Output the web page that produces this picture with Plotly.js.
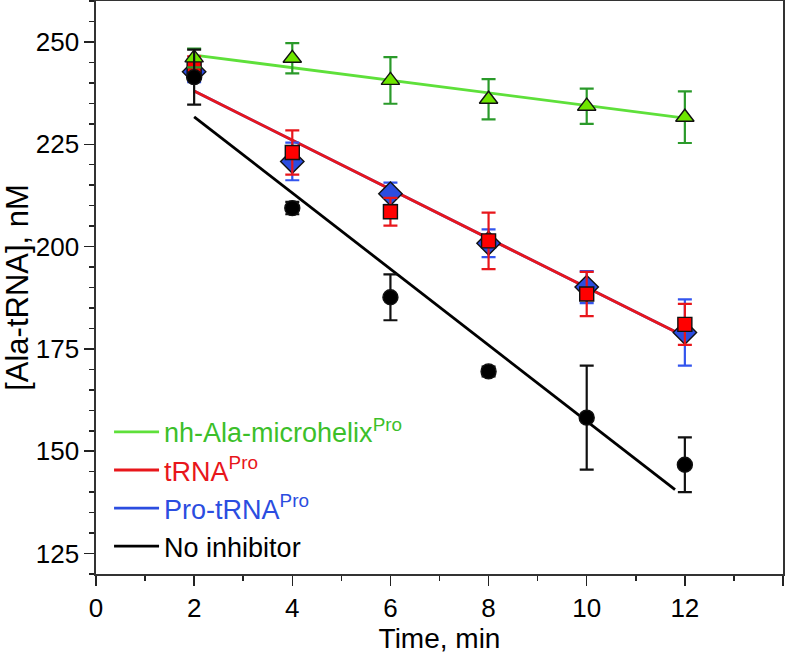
<!DOCTYPE html>
<html>
<head>
<meta charset="utf-8">
<script src="https://cdn.plot.ly/plotly-3.0.1.min.js"></script>
<style>html,body{margin:0;padding:0;background:#fff}#chart{width:793px;height:656px}</style>
</head>
<body>
<div id="chart"></div>
<script>
// ---- data ----
const times = [2, 4, 6, 8, 10, 12];

const microhelix    = [246.1, 246.0, 240.6, 236.0, 234.3, 231.6];
const microhelixErr = [2.3, 3.7, 5.7, 4.9, 4.3, 6.3];

const tRNA    = [244.0, 223.0, 208.5, 201.4, 188.4, 181.0];
const tRNAErr = [2.5, 5.4, 3.4, 6.9, 5.4, 5.0];

const proTRNA    = [242.7, 220.8, 212.9, 200.8, 190.1, 179.0];
const proTRNAErr = [2.5, 4.6, 2.7, 3.4, 3.9, 8.1];

const noInhib    = [241.4, 209.4, 187.6, 169.5, 158.2, 146.7];
const noInhibErr = [6.7, 1.5, 5.6, 1.2, 12.7, 6.7];

// linear fits
const fitX          = [2, 12];
const microhelixFit = [246.8, 231.4];
const tRNAFit       = [238.0, 178.0];
const proTRNAFit    = [238.0, 178.0];
const noInhibFitX   = [2, 11.8];
const noInhibFit    = [231.7, 140.6];

const yTicks = [125, 150, 175, 200, 225, 250];
const xTicks = [0, 2, 4, 6, 8, 10, 12, 14];

const names = {
  microhelix: '<span style="color:#3cbf2a">nh-Ala-microhelix<sup>Pro</sup></span>',
  tRNA: '<span style="color:#e8161b">tRNA<sup>Pro</sup></span>',
  proTRNA: '<span style="color:#2b4de0">Pro-tRNA<sup>Pro</sup></span>',
  noInhib: '<span style="color:#000">No inhibitor</span>'
};

// ---- styles ----
const C = {
  green: {line: '#5ee03a', fill: '#6ee600', err: '#2a9a2a'},
  red:   {line: '#e8161b', fill: '#ff0000', err: '#e8161b'},
  blue:  {line: '#2b4de0', fill: '#2b4de0', err: '#3355ee'},
  black: {line: '#000000', fill: '#000000', err: '#111111'}
};

function fitTrace(x, y, color, name, rank) {
  return {x: x, y: y, type: 'scatter', mode: 'lines', name: name, legendrank: rank,
          line: {color: color, width: 2.8}, hoverinfo: 'skip'};
}
function ptTrace(y, err, symbol, size, fill, errc) {
  return {x: times, y: y, type: 'scatter', mode: 'markers', showlegend: false,
          marker: {symbol: symbol, size: size, color: fill, line: {color: '#111', width: 1.4}},
          error_y: {type: 'data', array: err, visible: true, color: errc, thickness: 2.2, width: 7}};
}

const data = [
  fitTrace(fitX, proTRNAFit, C.blue.line, names.proTRNA, 3),
  fitTrace(fitX, microhelixFit, C.green.line, names.microhelix, 1),
  fitTrace(fitX, tRNAFit, C.red.line, names.tRNA, 2),
  fitTrace(noInhibFitX, noInhibFit, C.black.line, names.noInhib, 4),
  ptTrace(proTRNA, proTRNAErr, 'diamond', 18, C.blue.fill, C.blue.err),
  ptTrace(tRNA, tRNAErr, 'square', 14, C.red.fill, C.red.err),
  ptTrace(microhelix, microhelixErr, 'triangle-up', 16, C.green.fill, C.green.err),
  ptTrace(noInhib, noInhibErr, 'circle', 15, C.black.fill, C.black.err)
];

const font = 'Arial, "Liberation Sans", Helvetica, sans-serif';

const layout = {
  width: 793, height: 656,
  margin: {l: 96, r: 10, t: 1, b: 82},
  paper_bgcolor: '#fff', plot_bgcolor: '#fff',
  font: {family: font, color: '#000', size: 26},
  showlegend: true,
  legend: {x: 0.019, y: 0.29, xanchor: 'left', yanchor: 'top',
           bgcolor: 'rgba(0,0,0,0)', font: {size: 27, family: font},
           itemwidth: 45, tracegroupgap: 0},
  xaxis: {
    range: [0, 14], tickvals: xTicks, ticks: 'outside', ticklen: 10, tickwidth: 1.5,
    tickcolor: '#222', showline: true, linecolor: '#333', linewidth: 1.6, mirror: true,
    showgrid: false, zeroline: false, tickfont: {size: 26},
    minor: {dtick: 1, tick0: 0, ticks: 'outside', ticklen: 5, tickwidth: 1.5, tickcolor: '#222', showgrid: false},
    title: {text: 'Time, min', font: {size: 28}, standoff: 4}
  },
  yaxis: {
    range: [120, 260], tickvals: yTicks, ticks: 'outside', ticklen: 10, tickwidth: 1.5,
    tickcolor: '#222', showline: true, linecolor: '#333', linewidth: 1.6, mirror: true,
    showgrid: false, zeroline: false, tickfont: {size: 26},
    minor: {dtick: 5, tick0: 120, ticks: 'outside', ticklen: 5, tickwidth: 1.5, tickcolor: '#222', showgrid: false},
    title: {text: '[Ala-tRNA], nM', font: {size: 31}, standoff: 4}
  }
};

Plotly.newPlot('chart', data, layout, {displayModeBar: false, staticPlot: true});
</script>
</body>
</html>
